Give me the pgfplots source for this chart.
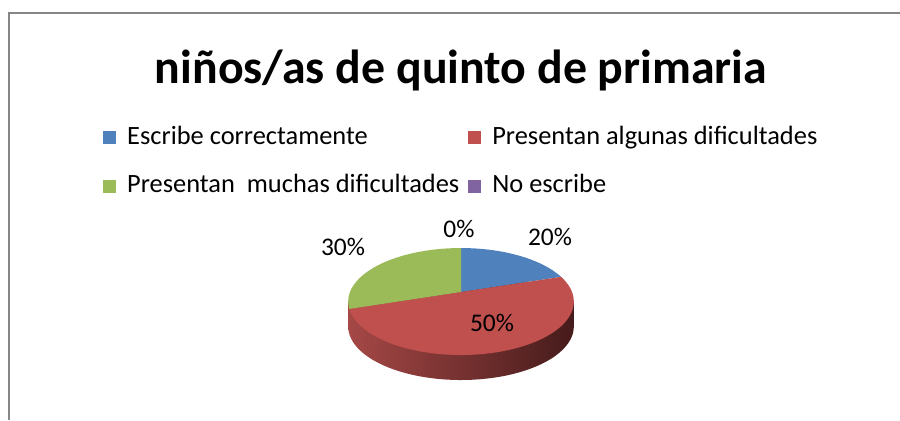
\documentclass[border=0pt]{standalone}
\usepackage{fontspec}
\setmainfont{Carlito}
\usepackage{pgfplots}
\usepackage{pgfplotstable}
\pgfplotsset{compat=1.18}

\definecolor{cBlue}{HTML}{4F81BD}
\definecolor{cRed}{HTML}{C0504D}
\definecolor{cGreen}{HTML}{9BBB59}
\definecolor{cPurple}{HTML}{8064A2}
\definecolor{sideL}{RGB}{165,72,70}
\definecolor{sideM}{RGB}{120,48,47}
\definecolor{sideR}{RGB}{70,27,27}
\definecolor{frameGray}{HTML}{868686}

\pgfplotstableread{
label value
Escribe 20
Algunas 50
Muchas 30
No 0
}\piedata
\pgfplotstablegetelem{0}{value}\of\piedata \let\vA\pgfplotsretval
\pgfplotstablegetelem{1}{value}\of\piedata \let\vB\pgfplotsretval
\pgfplotstablegetelem{2}{value}\of\piedata \let\vC\pgfplotsretval
\pgfplotstablegetelem{3}{value}\of\piedata \let\vD\pgfplotsretval
% slice boundaries (degrees, start at 12 o'clock, clockwise)
\pgfmathsetmacro{\tZ}{90}
\pgfmathsetmacro{\tA}{\tZ-3.6*\vA}
\pgfmathsetmacro{\tB}{\tA-3.6*\vB}
\pgfmathsetmacro{\tC}{\tB-3.6*\vC}

% perspective ellipse of the pie top
\def\PX(#1){461+111*cos(#1)/(1+0.178*sin(#1))}
\def\PY(#1){292-51.8*sin(#1)/(1+0.178*sin(#1))}

\newcommand{\lblfont}{\fontsize{25.5}{30}\selectfont}

\begin{document}
\begin{tikzpicture}
\begin{axis}[
  name=main,
  width=900bp, height=420bp, scale only axis,
  xmin=0, xmax=900, ymin=0, ymax=420, y dir=reverse,
  hide axis, clip=false,
  legend image code/.code={\fill[#1] (0bp,-6.5bp) rectangle (13bp,6.5bp);},
  legend columns=2,
  legend cell align=left,
  legend style={
    at={(axis cs:103,125)}, anchor=north west,
    draw=none, fill=none, inner sep=0pt,
    font=\fontsize{26.5}{30}\selectfont,
    nodes={inner sep=0pt, text height=19bp, text depth=6bp},
    /tikz/every even column/.append style={column sep=9bp},
    /tikz/every odd column/.append style={column sep=11bp},
    row sep=23.7bp,
  },
]
% side of the pie (depth)
\addplot[forget plot, draw=none, left color=sideL, middle color=sideM, right color=sideR,
  domain=0:360, samples=120, variable=\t]
  ({\PX(\t)}, {\PY(\t)+25}) -- cycle;
\addplot[forget plot, draw=none, left color=sideL, middle color=sideM, right color=sideR]
  coordinates {(348.2,301.5) (573.8,301.5) (573.8,326.5) (348.2,326.5)} -- cycle;
% top slices
\addplot[fill=cBlue, draw=none, domain=\tA:\tZ, samples=40, variable=\t]
  ({\PX(\t)}, {\PY(\t)}) -- (axis cs:461,292) -- cycle;
\addlegendentry{Escribe correctamente}
\addplot[fill=cRed, draw=none, domain=\tB:\tA, samples=80, variable=\t]
  ({\PX(\t)}, {\PY(\t)}) -- (axis cs:461,292) -- cycle;
\addlegendentry{Presentan algunas dificultades}
\addplot[fill=cGreen, draw=none, domain=\tC:\tB, samples=50, variable=\t]
  ({\PX(\t)}, {\PY(\t)}) -- (axis cs:461,292) -- cycle;
\addlegendentry{Presentan\ \ muchas dificultades}
\addlegendimage{fill=cPurple, draw=none}
\addlegendentry{No escribe}

% frame (top and left edges visible)
\draw[frameGray, line width=2bp] (axis cs:8.5,420) -- (axis cs:8.5,12.5) -- (axis cs:900,12.5);

% title
\node[anchor=base, font=\bfseries\fontsize{48}{56}\selectfont] at (axis cs:461,83) {niños/as de quinto de primaria};

% data labels
\node[anchor=base, font=\lblfont] at (axis cs:550,245) {\vA\%};
\node[anchor=base, font=\lblfont] at (axis cs:492,331) {\vB\%};
\node[anchor=base, font=\lblfont] at (axis cs:343,255) {\vC\%};
\node[anchor=base, font=\lblfont] at (axis cs:459,237) {\vD\%};
\end{axis}
\pgfresetboundingbox
\useasboundingbox (main.south west) rectangle (main.north east);
\end{tikzpicture}
\end{document}
